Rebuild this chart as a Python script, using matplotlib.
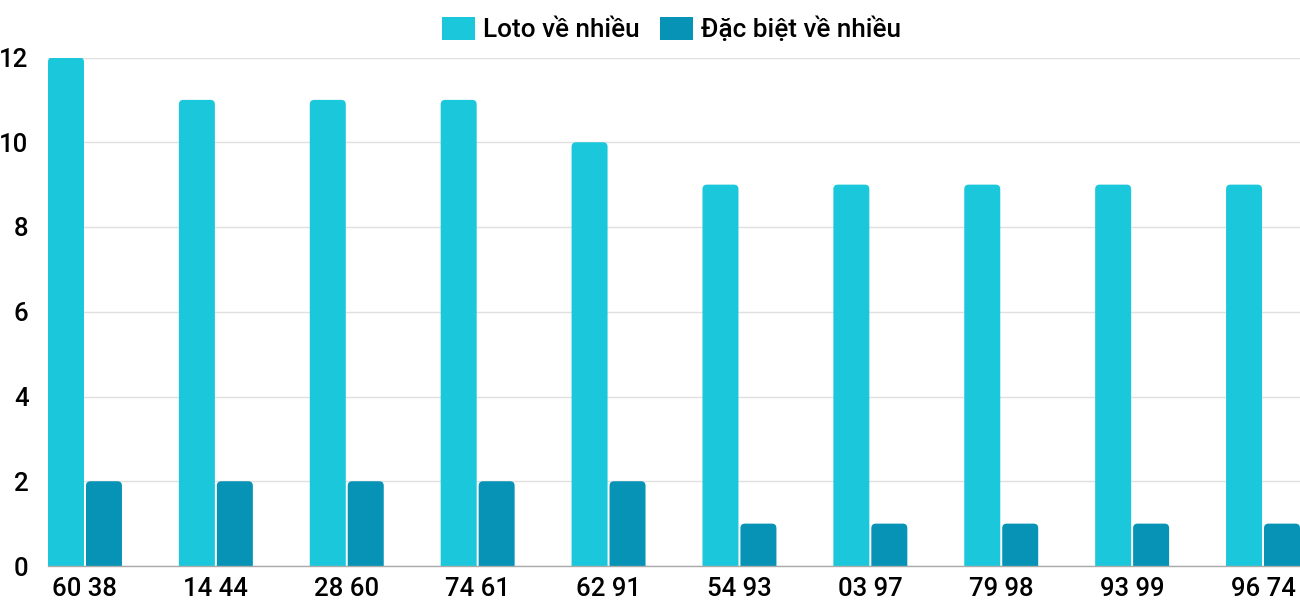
import matplotlib
matplotlib.use("Agg")
import matplotlib.pyplot as plt
from matplotlib.patches import FancyBboxPatch, Patch
import numpy as np

categories = ["60 38", "14 44", "28 60", "74 61", "62 91", "54 93", "03 97", "79 98", "93 99", "96 74"]
loto = [12, 11, 11, 11, 10, 9, 9, 9, 9, 9]
dacbiet = [2, 2, 2, 2, 2, 1, 1, 1, 1, 1]
series_names = ["Loto về nhiều", "Đặc biệt về nhiều"]
colors = ["#1BC8DB", "#0693B6"]

plt.rcParams['font.family'] = ['Roboto', 'DejaVu Sans']
plt.rcParams['font.weight'] = 500

fig = plt.figure(figsize=(13, 6), dpi=100)
ax = fig.add_axes([48/1300, 1 - 566/600, 1252/1300, (566 - 57.5)/600])

bw = 0.275
off = 0.145
x = np.arange(len(categories))
px_x = 130.8
px_y = 42.33
r_px = 4.5
rs = r_px / px_x
aspect = (r_px / px_y) / rs

for vals, dx, c in [(loto, -off, colors[0]), (dacbiet, off, colors[1])]:
    for xi, v in zip(x, vals):
        p = FancyBboxPatch((xi + dx - bw/2, -0.5), bw, v + 0.5,
                           boxstyle=f"round,pad=0,rounding_size={rs}",
                           mutation_aspect=aspect, facecolor=c, edgecolor='none',
                           clip_on=True, zorder=3)
        ax.add_patch(p)

ax.set_xlim(-off - bw/2, len(categories) - 1 + off + bw/2)
ax.set_ylim(0, 12)
ax.set_yticks([0, 2, 4, 6, 8, 10, 12])
ax.set_xticks(x)
ax.set_xticklabels(categories)
ax.tick_params(axis='both', length=0, labelsize=18.5, colors='#000000')
ax.tick_params(axis='y', pad=14)
ax.tick_params(axis='x', pad=8)
ax.grid(axis='y', color='#e0e0e0', linewidth=1, zorder=0)
ax.set_axisbelow(True)
for s in ['top', 'right', 'left']:
    ax.spines[s].set_visible(False)
ax.spines['bottom'].set_color('#aaaaaa')
ax.spines['bottom'].set_linewidth(1)
ax.spines['bottom'].set_zorder(4)

handles = [Patch(facecolor=colors[0], edgecolor='none'), Patch(facecolor=colors[1], edgecolor='none')]
fig.legend(handles, series_names, loc='center', bbox_to_anchor=(0.5165, 1 - 29.5/600),
           ncol=2, frameon=False, fontsize=18.8, handlelength=1.25, handleheight=0.95,
           handletextpad=0.3, columnspacing=0.8)

fig.savefig("out.png", dpi=100)
